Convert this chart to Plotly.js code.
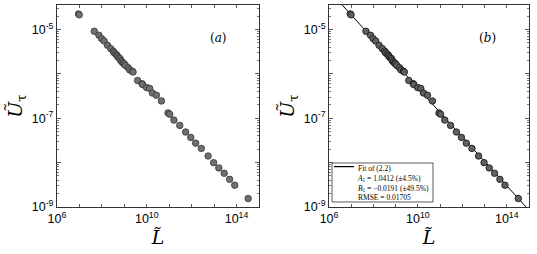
<!DOCTYPE html>
<html>
<head>
<meta charset="utf-8">
<script src="https://cdn.plot.ly/plotly-3.0.1.min.js"></script>
<style>html,body{margin:0;padding:0;background:#fff;}#chart{width:537px;height:254px;}</style>
</head>
<body>
<div id="chart"></div>
<script>
// Data (same data in both panels)
const Lvals = [9.1e6, 9.8e6, 4.6e7, 7.4e7, 9.8e7, 1.26e8, 1.78e8, 2.5e8, 3.2e8, 3.5e8, 4.1e8, 4.7e8, 5.0e8,
  5.75e8, 6.5e8, 6.9e8, 7.9e8, 8.9e8, 9.8e8, 1.12e9, 1.48e9, 1.74e9, 2.24e9, 2.45e9, 3.9e9, 6.2e9, 6.5e9,
  9.8e9, 1.35e10, 1.78e10, 2.7e10, 4.5e10, 8.9e10, 1.05e11, 1.62e11, 2.95e11, 5.4e11, 9.1e11, 1.51e12,
  2.7e12, 5.4e12, 9.5e12, 1.62e13, 2.82e13, 4.9e13, 8.3e13, 3.3e14];
const Uvals = [2.24e-5, 2.14e-5, 9.1e-6, 7.4e-6, 6.2e-6, 5.5e-6, 4.4e-6, 3.7e-6, 3.24e-6, 3.0e-6, 2.8e-6, 2.63e-6,
  2.45e-6, 2.29e-6, 2.2e-6, 2.0e-6, 1.86e-6, 1.74e-6, 1.7e-6, 1.55e-6, 1.38e-6, 1.23e-6, 1.15e-6, 1.1e-6,
  7.1e-7, 6.0e-7, 5.75e-7, 4.9e-7, 4.7e-7, 3.7e-7, 3.3e-7, 2.45e-7, 1.32e-7, 1.23e-7, 9.1e-8, 6.9e-8,
  4.9e-8, 3.7e-8, 2.75e-8, 2.09e-8, 1.41e-8, 1.0e-8, 7.6e-9, 5.75e-9, 4.2e-9, 3.1e-9, 1.55e-9];
const fitL = [1e6, 1e15];
const fitU = [7.55e-5, 8.47e-10];
const xTickVals = [1e6, 1e7, 1e8, 1e9, 1e10, 1e11, 1e12, 1e13, 1e14, 1e15];
const xTickText = ['10<sup>6</sup>', '', '', '', '10<sup>10</sup>', '', '', '', '10<sup>14</sup>', ''];
const yTickVals = [1e-9, 1e-8, 1e-7, 1e-6, 1e-5];
const yTickText = ['10<sup>-9</sup>', '', '10<sup>-7</sup>', '', '10<sup>-5</sup>'];
const legendLines = ['Fit of (2.2)', '<i>A</i><sub>1</sub> = 1.0412 (±4.5%)', '<i>B</i><sub>1</sub> = −0.0191 (±49.5%)', 'RMSE = 0.01705'];

const yMinor = [];
for (let e = -10; e <= -4; e++) for (let m = 2; m <= 9; m++) yMinor.push(m * Math.pow(10, e));

const traces = [
  {x: Lvals, y: Uvals, xaxis: 'x', yaxis: 'y', type: 'scatter', mode: 'markers', showlegend: false,
   marker: {symbol: 'circle', size: 6.5, color: '#707070', line: {color: '#333', width: 0.8}}},
  {x: fitL, y: fitU, xaxis: 'x2', yaxis: 'y2', type: 'scatter', mode: 'lines', showlegend: false,
   line: {color: '#000', width: 1}},
  {x: Lvals, y: Uvals, xaxis: 'x2', yaxis: 'y2', type: 'scatter', mode: 'markers', showlegend: false,
   marker: {symbol: 'circle', size: 6.5, color: '#606060', line: {color: '#111', width: 0.8}}}
];

const tickFont = {family: 'Liberation Sans, Arial, sans-serif', size: 12.5, color: '#000'};
const titleFont = {family: 'DejaVu Serif, serif', size: 19, color: '#000'};

function xax(dom, anchor) {
  return {type: 'log', domain: dom, anchor: anchor, range: [6, 15], tickmode: 'array',
    tickvals: xTickVals, ticktext: xTickText, ticks: 'inside', ticklen: 3, tickwidth: 0.8, tickcolor: '#333',
    showline: true, linecolor: '#333', linewidth: 1, mirror: 'ticks', showgrid: false, zeroline: false,
    tickfont: tickFont, title: {text: '<i>L̃</i>', font: titleFont, standoff: 2}};
}
function yax(anchor) {
  return {type: 'log', domain: [0.185, 0.98], anchor: anchor, range: [-9, -4.45], tickmode: 'array',
    tickvals: yTickVals, ticktext: yTickText, ticks: 'inside', ticklen: 4, tickwidth: 0.8, tickcolor: '#333',
    minor: {tickmode: 'array', tickvals: yMinor, ticks: 'inside', ticklen: 2, tickcolor: '#555', showgrid: false},
    showline: true, linecolor: '#333', linewidth: 1, mirror: 'ticks', showgrid: false, zeroline: false,
    tickfont: tickFont, title: {text: '<i>Ũ</i><sub>τ</sub>', font: titleFont, standoff: 4}};
}

const layout = {
  width: 537, height: 254, margin: {l: 0, r: 0, t: 0, b: 0},
  paper_bgcolor: '#fff', plot_bgcolor: '#fff', showlegend: false,
  xaxis: xax([0.1061, 0.4823], 'y'), yaxis: yax('x'),
  xaxis2: xax([0.6127, 0.9851], 'y2'), yaxis2: yax('x2'),
  shapes: [
    {type: 'rect', xref: 'x2 domain', yref: 'y2 domain', x0: 0.015, x1: 0.52, y0: 0.025, y1: 0.218,
     line: {color: '#333', width: 0.8}, fillcolor: '#fff', layer: 'above'},
    {type: 'line', xref: 'x2 domain', yref: 'y2 domain', x0: 0.025, x1: 0.125, y0: 0.2, y1: 0.2,
     line: {color: '#000', width: 1.2}, layer: 'above'}
  ],
  annotations: [
    {xref: 'x domain', yref: 'y domain', x: 0.85, y: 0.88, text: '(<i>a</i>)', showarrow: false,
     font: {family: 'DejaVu Serif, serif', size: 12, color: '#000'}},
    {xref: 'x2 domain', yref: 'y2 domain', x: 0.845, y: 0.88, text: '(<i>b</i>)', showarrow: false,
     font: {family: 'DejaVu Serif, serif', size: 12, color: '#000'}},
    {xref: 'x2 domain', yref: 'y2 domain', x: 0.13, y: 0.225, xanchor: 'left', yanchor: 'top', align: 'left',
     text: legendLines.join('<br>'), showarrow: false,
     font: {family: 'Liberation Serif, serif', size: 7.5, color: '#000'}}
  ]
};

Plotly.newPlot('chart', traces, layout, {displayModeBar: false, staticPlot: true});
</script>
</body>
</html>
